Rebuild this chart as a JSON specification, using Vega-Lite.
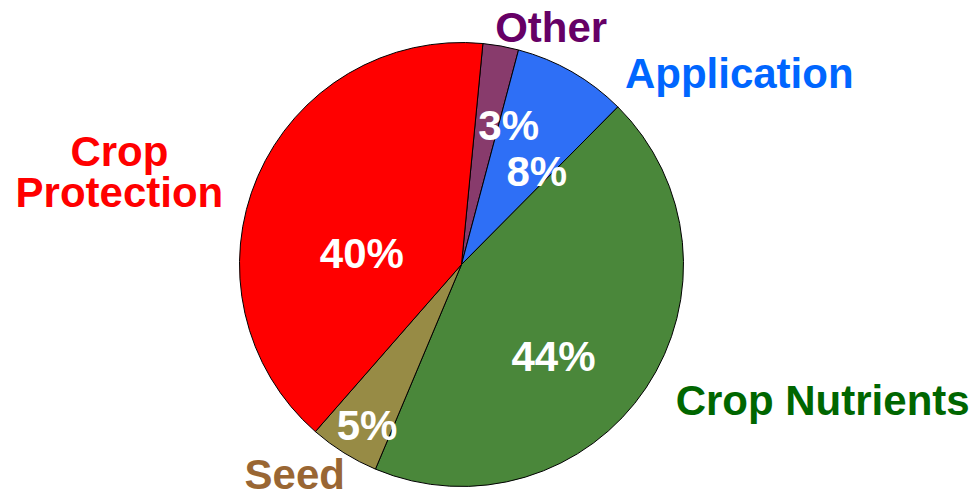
{
  "$schema": "https://vega.github.io/schema/vega-lite/v6.json",
  "width": 923,
  "height": 451,
  "autosize": {"type": "none"},
  "padding": {"left": 0, "top": 39, "right": 52, "bottom": 0},
  "background": "white",
  "config": {
    "view": {"stroke": null},
    "text": {"font": "Liberation Sans", "fontWeight": "bold", "fontSize": 42, "align": "center", "baseline": "alphabetic"}
  },
  "data": {
    "values": [
      {"category": "Other", "label": "Other", "pct": "3%", "value": 2.6, "rank": 1},
      {"category": "Application", "label": "Application", "pct": "8%", "value": 8.3, "rank": 2},
      {"category": "Crop Nutrients", "label": "Crop Nutrients", "pct": "44%", "value": 43.9, "rank": 3},
      {"category": "Seed", "label": "Seed", "pct": "5%", "value": 5.1, "rank": 4},
      {"category": "Crop Protection", "label": "Crop\nProtection", "pct": "40%", "value": 40.1, "rank": 5}
    ]
  },
  "encoding": {
    "theta": {"field": "value", "type": "quantitative", "stack": true, "scale": {"range": [0.0965, 6.3797]}},
    "order": {"field": "rank", "type": "quantitative"}
  },
  "layer": [
    {
      "mark": {"type": "arc", "outerRadius": 222, "stroke": "black", "strokeWidth": 1},
      "encoding": {
        "color": {
          "field": "category", "type": "nominal", "legend": null,
          "scale": {
            "domain": ["Other", "Application", "Crop Nutrients", "Seed", "Crop Protection"],
            "range": ["#883B6C", "#2E6FF6", "#4A873A", "#978B45", "#FF0000"]
          }
        }
      }
    },
    {
      "mark": {"type": "text", "radius": 131, "dx": 24, "dy": 4, "color": "white"},
      "encoding": {"text": {"condition": {"test": "datum.category === 'Other'", "field": "pct"}, "value": ""}}
    },
    {
      "mark": {"type": "text", "radius": 105, "dx": 23, "dy": 13, "color": "white"},
      "encoding": {"text": {"condition": {"test": "datum.category === 'Application'", "field": "pct"}, "value": ""}}
    },
    {
      "mark": {"type": "text", "radius": 136, "dx": -21, "dy": 31, "color": "white"},
      "encoding": {"text": {"condition": {"test": "datum.category === 'Crop Nutrients'", "field": "pct"}, "value": ""}}
    },
    {
      "mark": {"type": "text", "radius": 199, "dx": 11, "dy": 7, "color": "white"},
      "encoding": {"text": {"condition": {"test": "datum.category === 'Seed'", "field": "pct"}, "value": ""}}
    },
    {
      "mark": {"type": "text", "radius": 90, "dx": -17, "dy": 39, "color": "white"},
      "encoding": {"text": {"condition": {"test": "datum.category === 'Crop Protection'", "field": "pct"}, "value": ""}}
    },
    {
      "mark": {"type": "text", "radius": 235, "dx": 48, "dy": 9, "color": "#660066"},
      "encoding": {"text": {"condition": {"test": "datum.category === 'Other'", "field": "label"}, "value": ""}}
    },
    {
      "mark": {"type": "text", "radius": 291, "dx": 133, "dy": 76, "color": "#0066FF"},
      "encoding": {"text": {"condition": {"test": "datum.category === 'Application'", "field": "label"}, "value": ""}}
    },
    {
      "mark": {"type": "text", "radius": 384, "dx": 42, "dy": -63, "color": "#006600"},
      "encoding": {"text": {"condition": {"test": "datum.category === 'Crop Nutrients'", "field": "label"}, "value": ""}}
    },
    {
      "mark": {"type": "text", "radius": 279, "dx": -19, "dy": -12, "color": "#996633"},
      "encoding": {"text": {"condition": {"test": "datum.category === 'Seed'", "field": "label"}, "value": ""}}
    },
    {
      "mark": {"type": "text", "radius": 353, "dx": -18, "dy": 41, "color": "#FF0000", "lineBreak": "\n", "lineHeight": 41},
      "encoding": {"text": {"condition": {"test": "datum.category === 'Crop Protection'", "field": "label"}, "value": ""}}
    }
  ]
}
